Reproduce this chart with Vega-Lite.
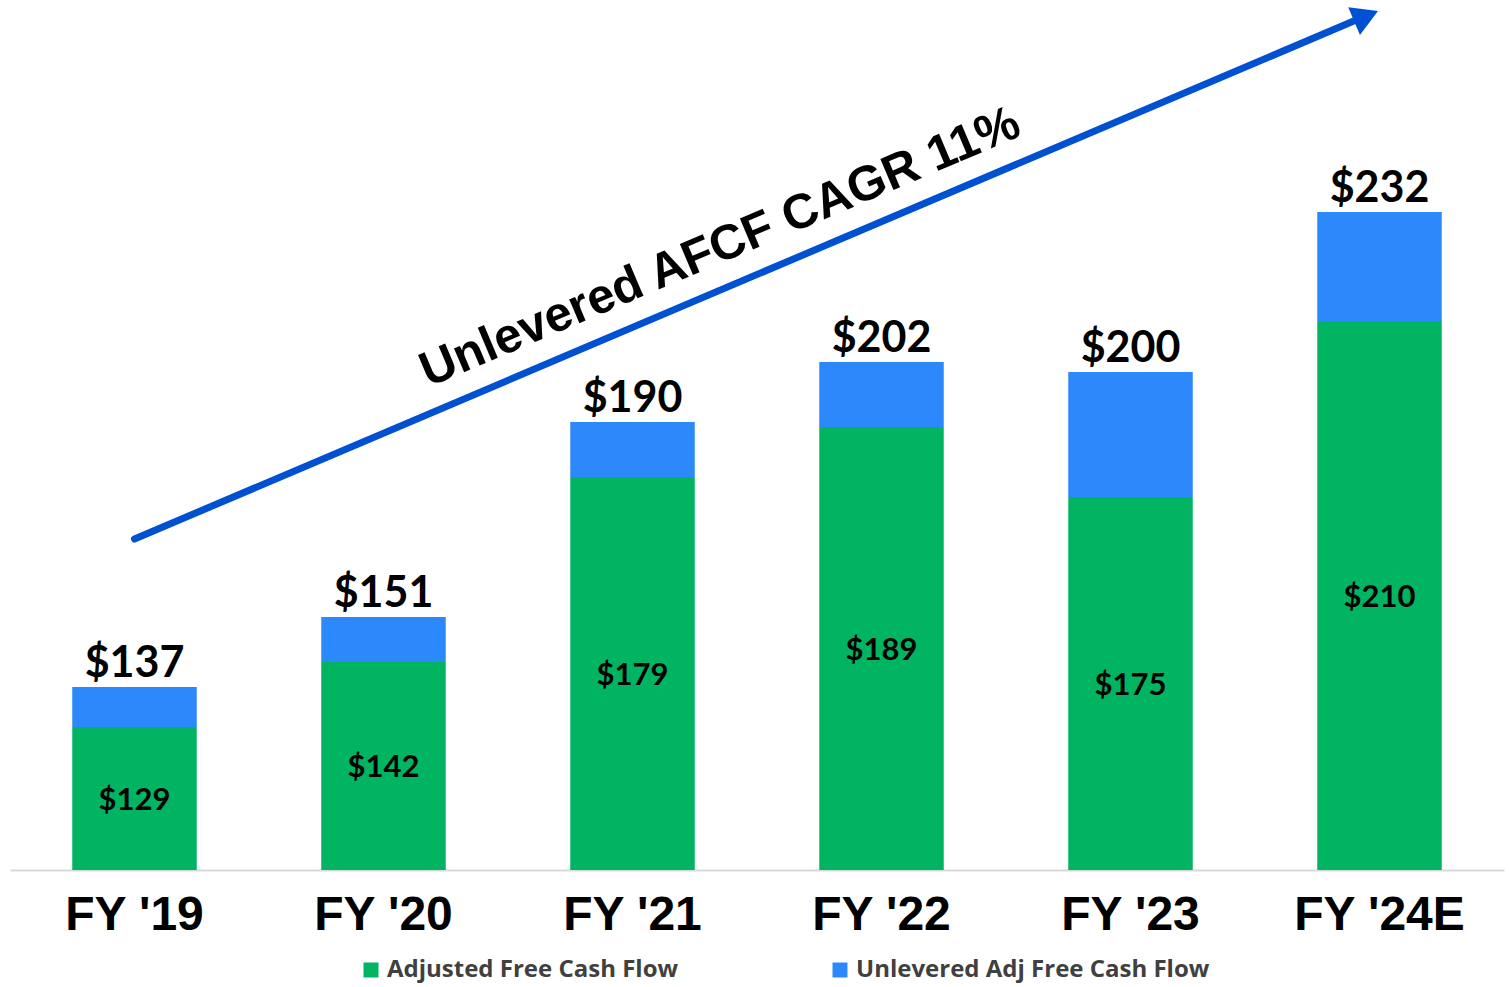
{
  "$schema": "https://vega.github.io/schema/vega-lite/v6.json",
  "width": 1494,
  "height": 870,
  "autosize": {"type": "none"},
  "padding": {"left": 10, "top": 0, "right": 5, "bottom": 117},
  "background": "white",
  "config": {"view": {"stroke": null}},
  "layer": [
    {
      "data": {"values": [
        {"cat": "FY '19", "adj": 129, "total": 137},
        {"cat": "FY '20", "adj": 142, "total": 151},
        {"cat": "FY '21", "adj": 179, "total": 190},
        {"cat": "FY '22", "adj": 189, "total": 202},
        {"cat": "FY '23", "adj": 175, "total": 200},
        {"cat": "FY '24E", "adj": 210, "total": 232}
      ]},
      "transform": [{"calculate": "(datum.adj + 100.4) / 2", "as": "mid"}],
      "encoding": {
        "x": {
          "field": "cat", "type": "nominal", "sort": null,
          "scale": {"paddingInner": 0.5, "paddingOuter": 0.25},
          "axis": {
            "title": null, "labelAngle": 0, "ticks": false, "grid": false,
            "domainColor": "#d9d9d9", "domainWidth": 2,
            "labelFont": "Liberation Sans", "labelFontSize": 48, "labelFontWeight": "bold",
            "labelColor": "#000000", "labelPadding": 21
          }
        }
      },
      "layer": [
        {
          "mark": {"type": "bar"},
          "encoding": {
            "y": {"field": "adj", "type": "quantitative",
                  "scale": {"domain": [100.4, 274.4], "clamp": true, "zero": false, "nice": false},
                  "axis": null},
            "color": {
              "datum": "Adjusted Free Cash Flow", "type": "nominal",
              "scale": {"domain": ["Adjusted Free Cash Flow", "Unlevered Adj Free Cash Flow"],
                        "range": ["#00b462", "#2c88fb"]},
              "legend": {
                "title": null, "orient": "none", "legendX": 349, "legendY": 958,
                "direction": "horizontal", "columns": 2, "columnPadding": 149,
                "padding": 0, "symbolType": "square", "symbolSize": 225, "symbolStrokeWidth": 0,
                "labelFont": "Open Sans", "labelFontSize": 24, "labelFontWeight": "bold",
                "labelColor": "#404040", "labelOffset": 4, "labelLimit": 600
              }
            }
          }
        },
        {
          "mark": {"type": "bar"},
          "encoding": {
            "y": {"field": "total", "type": "quantitative"},
            "y2": {"field": "adj"},
            "color": {"datum": "Unlevered Adj Free Cash Flow", "type": "nominal"}
          }
        },
        {
          "mark": {"type": "text", "font": "Lato", "fontWeight": "bold", "fontSize": 43,
                   "color": "#000000", "baseline": "alphabetic", "align": "center", "dy": -10},
          "encoding": {
            "y": {"field": "total", "type": "quantitative"},
            "text": {"field": "total", "type": "quantitative", "format": "$d"}
          }
        },
        {
          "mark": {"type": "text", "font": "Lato", "fontWeight": "bold", "fontSize": 31,
                   "color": "#000000", "baseline": "middle", "align": "center", "dy": 2},
          "encoding": {
            "y": {"field": "mid", "type": "quantitative"},
            "text": {"field": "adj", "type": "quantitative", "format": "$d"}
          }
        }
      ]
    },
    {
      "layer": [
        {
          "data": {"values": [{"x": 0, "y": 166.6, "x2": 4.906, "y2": 270.4}]},
          "mark": {"type": "rule", "color": "#0050d2", "strokeWidth": 7, "strokeCap": "round"},
          "encoding": {
            "x": {"field": "x", "type": "quantitative",
                  "scale": {"domain": [-0.5, 5.5], "nice": false, "zero": false}, "axis": null},
            "x2": {"field": "x2"},
            "y": {"field": "y", "type": "quantitative"},
            "y2": {"field": "y2"}
          }
        },
        {
          "data": {"values": [{"x": 4.946, "y": 271.2}]},
          "mark": {"type": "point", "shape": "triangle-right", "filled": true, "color": "#0050d2",
                   "size": 900, "angle": 337, "opacity": 1},
          "encoding": {
            "x": {"field": "x", "type": "quantitative"},
            "y": {"field": "y", "type": "quantitative"}
          }
        },
        {
          "data": {"values": [{"x": 2.375, "y": 222.2, "label": "Unlevered AFCF CAGR 11%"}]},
          "mark": {"type": "text", "font": "Liberation Sans", "fontWeight": "bold", "fontSize": 49,
                   "color": "#000000", "angle": 337, "align": "center", "baseline": "alphabetic"},
          "encoding": {
            "x": {"field": "x", "type": "quantitative"},
            "y": {"field": "y", "type": "quantitative"},
            "text": {"field": "label"}
          }
        }
      ]
    }
  ],
  "resolve": {"scale": {"x": "independent"}}
}
